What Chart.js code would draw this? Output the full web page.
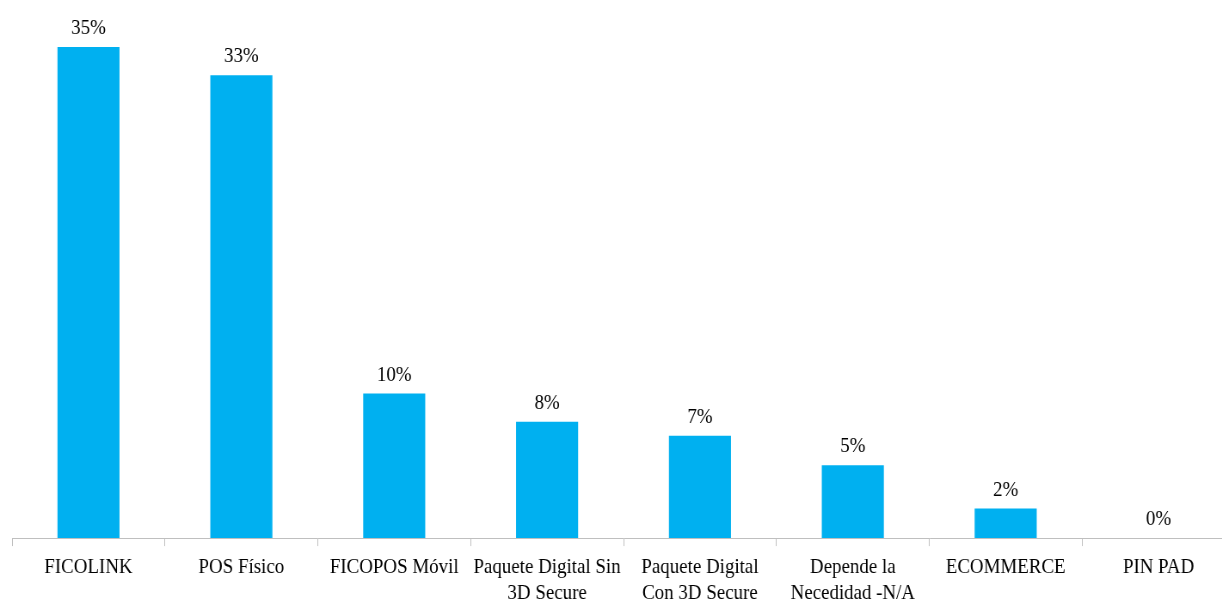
<!DOCTYPE html>
<html>
<head>
<meta charset="utf-8">
<script src="https://cdn.jsdelivr.net/npm/chart.js@4/dist/chart.umd.min.js"></script>
<style>
  html, body { margin: 0; padding: 0; background: #fff; overflow: hidden; }
  /* el original tiene el texto algo comprimido en horizontal */
  #wrap { width: 1436px; height: 614px; transform: scaleX(0.86); transform-origin: 0 0; }
</style>
</head>
<body>
<div id="wrap"><canvas id="myChart"></canvas></div>
<script>
// Categorías (eje X)
const categories = [
    'FICOLINK',
    'POS Físico',
    'FICOPOS Móvil',
    ['Paquete Digital Sin', '3D Secure'],
    ['Paquete Digital', 'Con 3D Secure'],
    ['Depende la', 'Necedidad -N/A'],
    'ECOMMERCE',
    'PIN PAD'
];

const percentages = [35, 33, 10.3, 8.3, 7.3, 5.2, 2.1, 0];

// Etiquetas de valor mostradas encima de las barras
const valueLabels = ['35%', '33%', '10%', '8%', '7%', '5%', '2%', '0%'];

const serif = "'Liberation Serif', 'Times New Roman', serif";

// Plugin simple para escribir los valores encima de cada barra
const barLabels = {
    id: 'barLabels',
    afterDatasetsDraw(chart) {
        const ctx = chart.ctx;
        const meta = chart.getDatasetMeta(0);
        ctx.save();
        ctx.font = '22px ' + serif;
        ctx.fillStyle = '#000';
        ctx.textAlign = 'center';
        ctx.textBaseline = 'alphabetic';
        meta.data.forEach((bar, i) => {
            ctx.fillText(valueLabels[i], bar.x, bar.y - 13);
        });
        ctx.restore();
    }
};

const ctx = document.getElementById('myChart').getContext('2d');
new Chart(ctx, {
    type: 'bar',
    data: {
        labels: categories,
        datasets: [{
            data: percentages,
            backgroundColor: '#00B0F0',
            borderWidth: 0,
            barPercentage: 1,
            categoryPercentage: 0.406
        }]
    },
    options: {
        responsive: true,
        maintainAspectRatio: false,
        animation: false,
        layout: { padding: { left: 14, top: 5, right: 0, bottom: 0 } },
        plugins: {
            legend: { display: false },
            tooltip: { enabled: false }
        },
        scales: {
            x: {
                grid: {
                    display: true,
                    drawOnChartArea: false,
                    drawTicks: true,
                    tickLength: 8,
                    color: '#bfbfbf'
                },
                border: { color: '#bfbfbf', width: 1 },
                ticks: {
                    color: '#000',
                    font: { family: serif, size: 22, lineHeight: 1.18 },
                    padding: 8,
                    maxRotation: 0,
                    autoSkip: false
                }
            },
            y: {
                display: false,
                min: 0,
                max: 38
            }
        }
    },
    plugins: [barLabels]
});
</script>
</body>
</html>
